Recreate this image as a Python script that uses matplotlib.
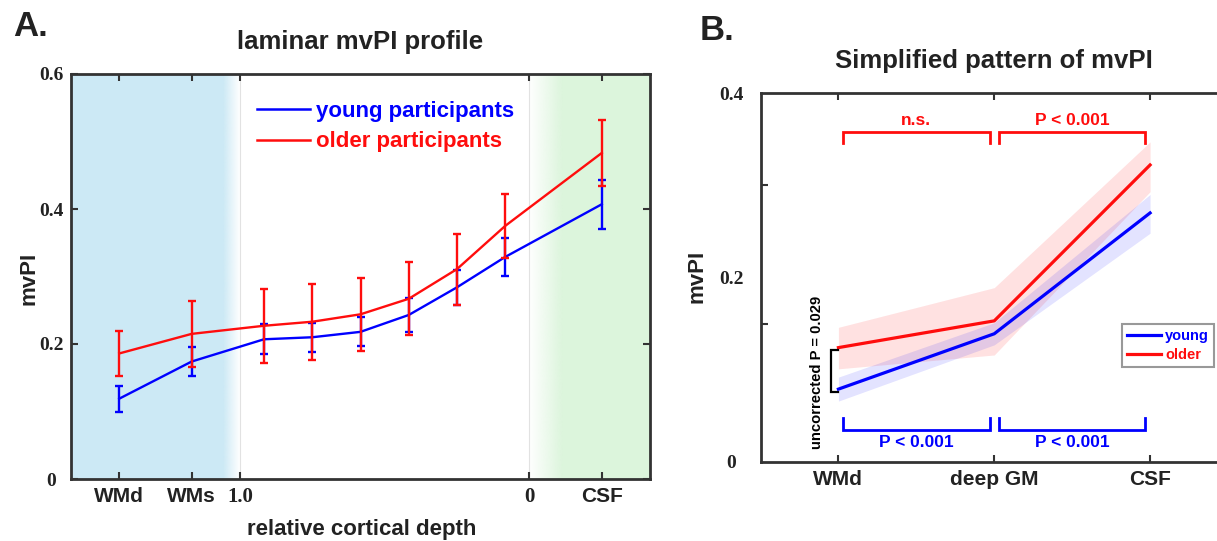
import numpy as np
import matplotlib
matplotlib.use('Agg')
import matplotlib.pyplot as plt
from matplotlib.colors import to_rgb
from matplotlib.lines import Line2D

# ---------------- data ----------------
# Panel A: laminar profile (WMd, WMs, 6 cortical depth bins from 1.0 -> 0, CSF)
layers_a = ['WMd', 'WMs', 'd1', 'd2', 'd3', 'd4', 'd5', 'd6', 'CSF']
young_mean = [0.119, 0.174, 0.207, 0.210, 0.218, 0.243, 0.284, 0.329, 0.407]
young_err = [0.019, 0.021, 0.022, 0.0215, 0.0215, 0.025, 0.026, 0.028, 0.036]
older_mean = [0.186, 0.215, 0.227, 0.233, 0.244, 0.267, 0.311, 0.375, 0.483]
older_err = [0.033, 0.049, 0.0545, 0.0565, 0.0545, 0.054, 0.0525, 0.047, 0.049]
xtick_labels_a = ['WMd', 'WMs', '1.0', '0', 'CSF']
yticks_a = [0, 0.2, 0.4, 0.6]
ytick_labels_a = ['0', '0.2', '0.4', '0.6']

# Panel B: simplified pattern
categories_b = ['WMd', 'deep GM', 'CSF']
young_b = [0.079, 0.139, 0.270]
young_b_lo = [0.066, 0.127, 0.248]
young_b_hi = [0.092, 0.151, 0.290]
older_b = [0.124, 0.153, 0.322]
older_b_lo = [0.101, 0.116, 0.293]
older_b_hi = [0.146, 0.189, 0.347]
yticks_b = [0, 0.2, 0.4]
ytick_labels_b = ['0', '0.2', '0.4']
older_tests = ['n.s.', 'P < 0.001']
young_tests = ['P < 0.001', 'P < 0.001']
wmd_test = 'uncorrected P = 0.029'

SANS = 'Liberation Sans'
SERIF = 'Liberation Serif'
BLUE = '#0000ff'
RED = '#ff0d0d'
SPINE = '#333333'
TXT = '#222222'

W, H = 1217, 541
fig = plt.figure(figsize=(W / 100, H / 100), dpi=100)

def fx(px):
    return px / W

def fy(py):
    return 1 - py / H

# ---------------- Panel A ----------------
axA = fig.add_axes([fx(71), fy(479), fx(579), 405 / H])
n_bins = 6
x_wm = [-2.5, -1.0]
x_ctx = list(np.arange(n_bins) + 0.5)
x_csf = [n_bins + 1.5]
xa = np.array(x_wm + x_ctx + x_csf)
xlim_a = (-3.5, n_bins + 2.5)
ylim_a = (0, 0.6)

def grad(ax, x0, x1, color, rising, ylim):
    n = 256
    img = np.zeros((1, n, 4))
    img[..., :3] = to_rgb(color)
    a = np.linspace(0, 1, n)
    img[..., 3] = a if rising else a[::-1]
    ax.imshow(img, extent=(x0, x1, ylim[0], ylim[1]), aspect='auto',
              interpolation='bilinear', zorder=0)

blue_bg = '#cce9f5'
green_bg = '#dcf5dc'
axA.axvspan(xlim_a[0], -0.35, color=blue_bg, lw=0, zorder=0)
grad(axA, -0.35, 0, blue_bg, False, ylim_a)
grad(axA, n_bins, n_bins + 0.7, green_bg, True, ylim_a)
axA.axvspan(n_bins + 0.7, xlim_a[1], color=green_bg, lw=0, zorder=0)
axA.axvline(0, color='#e2e2e2', lw=0.8, zorder=0.5)
axA.axvline(n_bins, color='#e2e2e2', lw=0.8, zorder=0.5)

axA.errorbar(xa, young_mean, yerr=young_err, color=BLUE, lw=1.7, elinewidth=1.7,
             capsize=3, capthick=1.7, zorder=3)
axA.errorbar(xa, older_mean, yerr=older_err, color=RED, lw=1.7, elinewidth=1.7,
             capsize=3, capthick=1.7, zorder=4)
axA.set_xlim(*xlim_a)
axA.set_ylim(*ylim_a)
axA.set_xticks([x_wm[0], x_wm[1], 0, n_bins, x_csf[0]])
axA.set_xticklabels(xtick_labels_a)
axA.set_yticks(yticks_a)
axA.set_yticklabels(ytick_labels_a)
axA.tick_params(direction='in', length=5, width=1.5, color=SPINE, top=True, right=True,
                labelsize=15)
axA.tick_params(axis='x', pad=6)
axA.tick_params(axis='y', pad=14.4)
for lab in axA.get_yticklabels():
    lab.set_fontfamily(SERIF)
    lab.set_fontweight('bold')
    lab.set_horizontalalignment('center')
    lab.set_color(TXT)
    lab.set_fontsize(14)
for lab in axA.get_xticklabels():
    t = lab.get_text()
    lab.set_fontfamily(SERIF if t in ('1.0', '0') else SANS)
    lab.set_fontweight('bold')
    lab.set_color(TXT)
for s in axA.spines.values():
    s.set_linewidth(2)
    s.set_color(SPINE)

handlesA = [Line2D([], [], color=BLUE, lw=1.8), Line2D([], [], color=RED, lw=1.8)]
legA = axA.legend(handlesA, ['young participants', 'older participants'],
                  loc='upper left', bbox_to_anchor=(fx(257), fy(101)),
                  bbox_transform=fig.transFigure, frameon=False, borderpad=0,
                  borderaxespad=0, handlelength=2.4, handletextpad=0.25,
                  labelspacing=0.42, prop={'family': SANS, 'weight': 'bold', 'size': 16})
for txt, c in zip(legA.get_texts(), [BLUE, RED]):
    txt.set_color(c)

fig.text(fx(360), fy(42), 'laminar mvPI profile', ha='center', va='center',
         fontsize=18.5, fontweight='bold', family=SANS, color=TXT)
fig.text(fx(13), fy(26), 'A.', ha='left', va='center', fontsize=25,
         fontweight='bold', family=SANS, color=TXT)
fig.text(fx(29.5), fy(278), 'mvPI', ha='center', va='center', rotation=90,
         fontsize=16, fontweight='bold', family=SANS, color=TXT)
fig.text(fx(362), fy(530), 'relative cortical depth', ha='center', va='center',
         fontsize=16, fontweight='bold', family=SANS, color=TXT)

# ---------------- Panel B ----------------
axB = fig.add_axes([fx(760.5), fy(462), fx(467.5), 369 / H])
xb = np.arange(1, len(categories_b) + 1)
axB.fill_between(xb, older_b_lo, older_b_hi, color=RED, alpha=0.12, lw=0, zorder=1)
axB.fill_between(xb, young_b_lo, young_b_hi, color=BLUE, alpha=0.11, lw=0, zorder=1)
axB.plot(xb, young_b, color=BLUE, lw=2.3, label='young', zorder=3)
axB.plot(xb, older_b, color=RED, lw=2.3, label='older', zorder=4)
axB.set_xlim(0.5, 3.5)
axB.set_ylim(0, 0.4)
axB.set_xticks(xb)
axB.set_xticklabels(categories_b)
axB.set_yticks(yticks_b)
axB.set_yticklabels(ytick_labels_b)
axB.set_yticks([0.15, 0.3], minor=True)
axB.tick_params(axis='x', direction='in', length=5, width=1.5, color=SPINE, top=True,
                labelsize=15, pad=6)
axB.tick_params(axis='y', which='major', length=0, labelsize=14, pad=21)
axB.tick_params(axis='y', which='minor', direction='in', length=5, width=1.5, color=SPINE)
for lab in axB.get_yticklabels():
    lab.set_fontfamily(SERIF)
    lab.set_fontweight('bold')
    lab.set_horizontalalignment('center')
    lab.set_color(TXT)
for lab in axB.get_xticklabels():
    lab.set_fontfamily(SANS)
    lab.set_fontweight('bold')
    lab.set_color(TXT)
for s in axB.spines.values():
    s.set_linewidth(2)
    s.set_color(SPINE)

# significance brackets
gap = 0.03
y_top, y_top_end, y_top_txt = 0.358, 0.346, 0.370
y_bot, y_bot_end, y_bot_txt = 0.035, 0.048, 0.021
for i in range(len(categories_b) - 1):
    x0, x1 = xb[i] + gap, xb[i + 1] - gap
    axB.plot([x0, x0, x1, x1], [y_top_end, y_top, y_top, y_top_end], color=RED, lw=2,
             solid_joinstyle='miter', zorder=5)
    axB.text((x0 + x1) / 2, y_top_txt, older_tests[i], color=RED, ha='center', va='center',
             fontsize=12.5, fontweight='bold', family=SANS)
    axB.plot([x0, x0, x1, x1], [y_bot_end, y_bot, y_bot, y_bot_end], color=BLUE, lw=2,
             solid_joinstyle='miter', zorder=5)
    axB.text((x0 + x1) / 2, y_bot_txt, young_tests[i], color=BLUE, ha='center', va='center',
             fontsize=12.5, fontweight='bold', family=SANS)

# WMd young vs older bracket
bx0, bx1 = xb[0] - 0.047, xb[0] - 0.005
axB.plot([bx1, bx0, bx0, bx1], [older_b[0] - 0.003, older_b[0] - 0.003,
                                 young_b[0] - 0.003, young_b[0] - 0.003],
         color='black', lw=1.6, solid_joinstyle='miter', zorder=5)
axB.text(xb[0] - 0.14, 0.0975, wmd_test, rotation=90, ha='center', va='center',
         fontsize=10.6, fontweight='bold', family=SANS, color='black')

legB = axB.legend(loc='upper right', bbox_to_anchor=(fx(1214), fy(324)),
                  bbox_transform=fig.transFigure, fancybox=False, borderpad=0.35,
                  borderaxespad=0, handlelength=2.3, handletextpad=0.3, labelspacing=0.32,
                  prop={'family': SANS, 'weight': 'bold', 'size': 10.5})
legB.get_frame().set_edgecolor('#808080')
legB.get_frame().set_linewidth(1.5)
for txt, c in zip(legB.get_texts(), [BLUE, RED]):
    txt.set_color(c)

fig.text(fx(994), fy(61), 'Simplified pattern of mvPI', ha='center', va='center',
         fontsize=18.5, fontweight='bold', family=SANS, color=TXT)
fig.text(fx(700), fy(30), 'B.', ha='left', va='center', fontsize=25,
         fontweight='bold', family=SANS, color=TXT)
fig.text(fx(697), fy(276), 'mvPI', ha='center', va='center', rotation=90,
         fontsize=16, fontweight='bold', family=SANS, color=TXT)

fig.savefig('out.png', dpi=100)
